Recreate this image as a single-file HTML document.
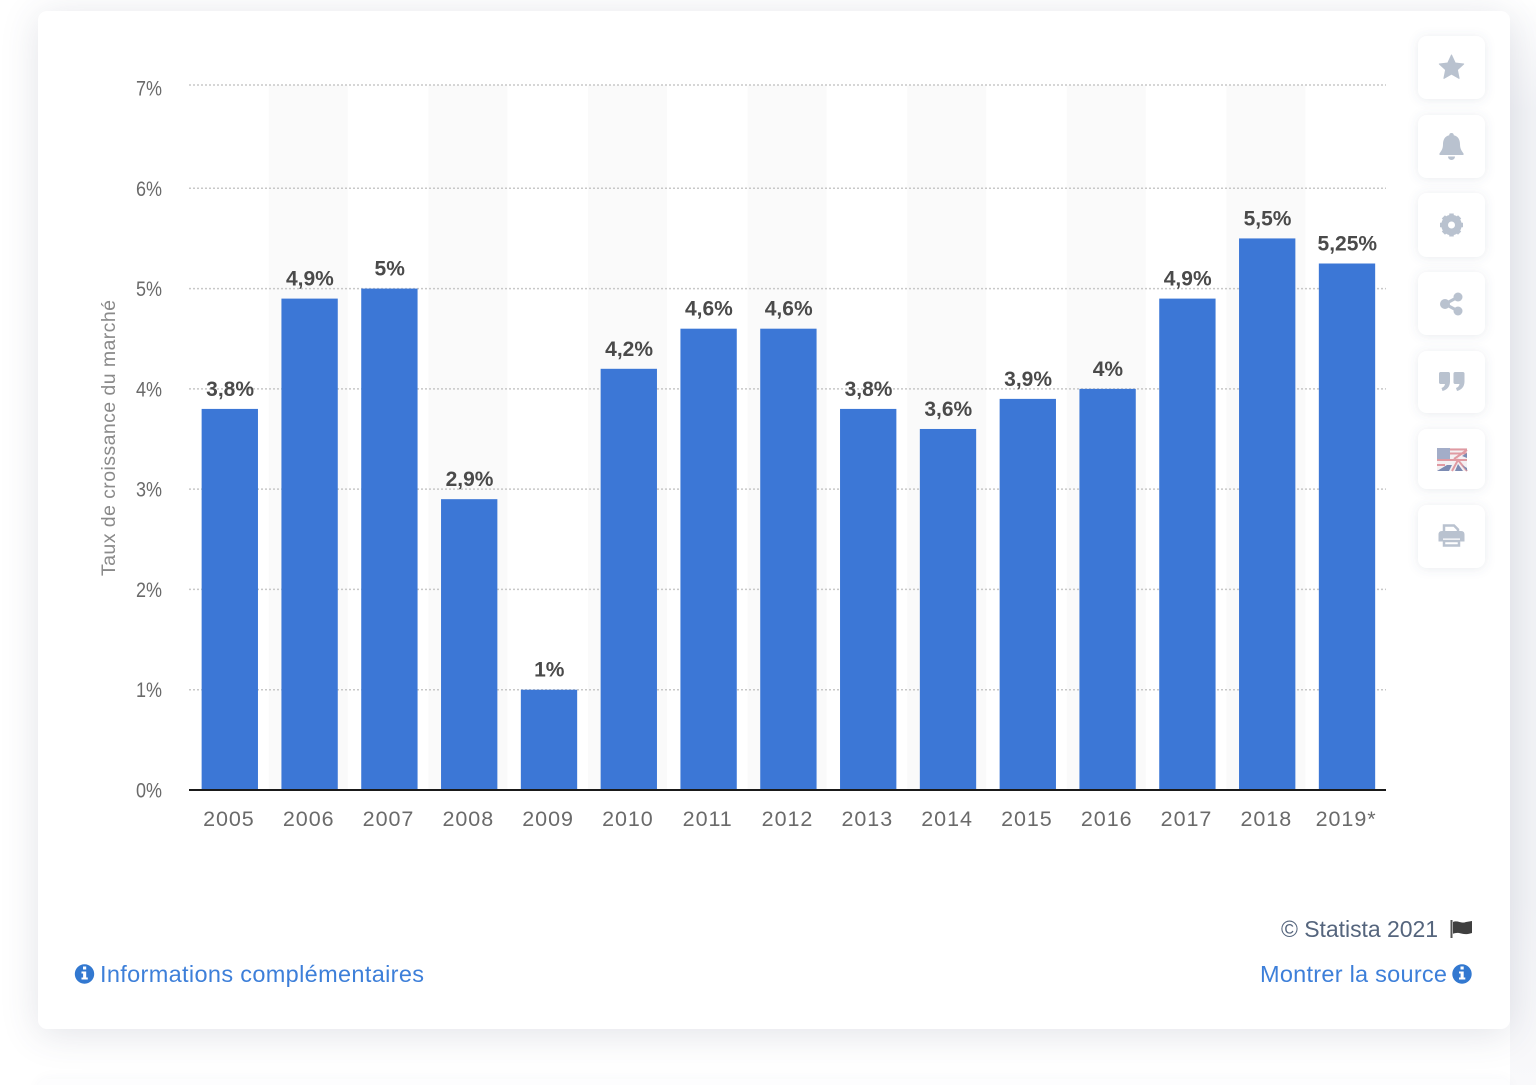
<!DOCTYPE html>
<html lang="fr">
<head>
<meta charset="utf-8">
<title>Taux de croissance du marché</title>
<style>
html,body{margin:0;padding:0;width:1536px;height:1085px;overflow:hidden;background:#fff}
body{position:relative;font-family:"Liberation Sans",sans-serif}
.strip{position:absolute;left:1510px;top:0;width:26px;height:1085px;background:linear-gradient(to bottom,#fff 0,#f3f4f7 110px,#f3f4f7 900px,#f9f9fb 1085px)}
.card{position:absolute;left:38px;top:11px;width:1472px;height:1018px;background:#fff;border-radius:9px;box-shadow:0 5px 38px rgba(60,70,100,.15)}
.next{position:absolute;left:38px;top:1079px;width:1472px;height:60px;background:#fdfdfe;border-radius:9px;box-shadow:0 0 14px rgba(60,70,100,.04)}
svg{position:absolute;left:0;top:0}
text{font-family:"Liberation Sans",sans-serif}
.soft{filter:blur(.35px)}
</style>
</head>
<body>
<div class="strip"></div>
<div class="card"></div>
<div class="next"></div>
<svg id="chart" class="soft" width="1536" height="1085" viewBox="0 0 1536 1085" xmlns="http://www.w3.org/2000/svg">
  <defs>
    <filter id="btn-shadow" x="-30%" y="-30%" width="160%" height="160%">
      <feDropShadow dx="0" dy="1" stdDeviation="5" flood-color="#5a6480" flood-opacity=".13"/>
    </filter>
  </defs>
  <g id="bands"></g>
  <g id="grid"></g>
  <g id="bars"></g>
  <g id="values"></g>
  <g id="yticks"></g>
  <g id="xticks"></g>
  <line x1="189" x2="1386" y1="790" y2="790" stroke="#1a1a1a" stroke-width="2"/>
  <text transform="translate(115,576) rotate(-90)" font-size="19.5" fill="#8a8a8a" textLength="276" lengthAdjust="spacing">Taux de croissance du marché</text>

  <g>
    <rect x="1418" y="36" width="67" height="63" rx="9" fill="#fff" filter="url(#btn-shadow)"/>
    <path d="M1451.500 55l3.700 8 8.500 1-6.300 5.800 1.700 8.600-7.600-4.300-7.600 4.300 1.700-8.600-6.300-5.800 8.500-1z" fill="#b9c2cf" stroke="#b9c2cf" stroke-linejoin="round"/>
  </g>
  <g>
    <rect x="1418" y="115" width="67" height="63" rx="9" fill="#fff" filter="url(#btn-shadow)"/>
    <path d="M1451.500 133c1.500 0 2.300 1 2.300 2.200 4.500 1 6.200 4.800 6.200 9 0 5 2 7 3.500 9.200v1.600h-24v-1.600c1.500-2.200 3.500-4.200 3.500-9.200 0-4.200 1.700-8 6.200-9 0-1.200.8-2.200 2.300-2.200z" fill="#b9c2cf"/>
    <path d="M1448 156.500a3.500 3.500 0 0 0 7 0z" fill="#b9c2cf"/>
  </g>
  <g>
    <rect x="1418" y="193" width="67" height="64" rx="9" fill="#fff" filter="url(#btn-shadow)"/>
    <circle cx="1451.500" cy="225" r="7.500" fill="none" stroke="#b9c2cf" stroke-width="5.500"/>
    <path d="M1451.500 213.500v23M1440 225h23M1443.400 216.900l16.200 16.200M1459.600 216.900l-16.200 16.200" stroke="#b9c2cf" stroke-width="4.500"/>
    <circle cx="1451.500" cy="225" r="3.500" fill="#fff"/>
  </g>
  <g>
    <rect x="1418" y="272" width="67" height="63" rx="9" fill="#fff" filter="url(#btn-shadow)"/>
    <path d="M1458 297l-13 7 13 7" fill="none" stroke="#b9c2cf" stroke-width="3"/>
    <circle cx="1458" cy="297" r="4.500" fill="#b9c2cf"/>
    <circle cx="1445" cy="304" r="5" fill="#b9c2cf"/>
    <circle cx="1458" cy="311" r="4.500" fill="#b9c2cf"/>
  </g>
  <g>
    <rect x="1418" y="351" width="67" height="62" rx="9" fill="#fff" filter="url(#btn-shadow)"/>
    <path d="M1440 372h8.500c.8 0 1.500.7 1.500 1.500v8c0 5-3 8.500-7.500 9.500l-1-3c2-.6 3.200-2 3.500-4h-4.500c-.8 0-1.500-.7-1.500-1.500v-9c0-.8.700-1.500 1.500-1.500z" fill="#b9c2cf"/>
    <path d="M1454.500 372h8.500c.8 0 1.500.7 1.500 1.500v8c0 5-3 8.500-7.500 9.500l-1-3c2-.6 3.200-2 3.500-4h-4.500c-.8 0-1.500-.7-1.500-1.500v-9c0-.8.700-1.500 1.500-1.500z" fill="#b9c2cf"/>
  </g>
  <g>
    <rect x="1418" y="429" width="67" height="60" rx="9" fill="#fff" filter="url(#btn-shadow)"/>
    <rect x="1437" y="448" width="30" height="23" fill="#f4f0f2"/>
    <path d="M1450 449.500h17M1450 453.500h17M1437 460h30M1437 465h8" stroke="#e09aa2" stroke-width="2"/>
    <path d="M1467 450l-13 9M1452 471l6-11 9 11" fill="none" stroke="#e09aa2" stroke-width="2"/>
    <path d="M1437 471l10-6 5 0-3 6zM1455 471l3-7 5 7zM1462 456l5-3v5zM1462 465l5 3v3z" fill="#7c8bb3"/>
    <rect x="1437" y="448" width="13" height="11" fill="#a3adc8"/>
  </g>
  <g>
    <rect x="1418" y="505" width="67" height="63" rx="9" fill="#fff" filter="url(#btn-shadow)"/>
    <path d="M1444 534v-8.500h10l4 4v4.500" fill="none" stroke="#b9c2cf" stroke-width="2.500"/>
    <path d="M1442 531h19c2.500 0 3.500 1.500 3.500 3.500v7h-4.500v-3h-17v3h-4.500v-7c0-2 1-3.500 3.500-3.500z" fill="#b9c2cf"/>
    <path d="M1444 541h15v4.500h-15z" fill="none" stroke="#b9c2cf" stroke-width="2.500"/>
  </g>

  <text x="1281" y="937" font-size="23" fill="#55657d" textLength="157" lengthAdjust="spacing">© Statista 2021</text>
  <g>
    <path d="M1451.500 920v18" stroke="#555" stroke-width="2"/>
    <path d="M1453 922c5-2 8 2 13 0l6-1v12c-6 2-9 1-13 0-2-.4-4 0-6 .8z" fill="#3f3f3f"/>
  </g>

  <g>
    <circle cx="84.500" cy="974" r="9.700" fill="#3278d0"/>
    <path d="M83 966.500h3.200v3h-3.200zM81.500 971.500h4.700v6h1.600v2h-6.300v-2h1.600v-4h-1.600z" fill="#fff"/>
    <text x="100" y="982" font-size="23.500" fill="#3d7fd9" textLength="324" lengthAdjust="spacing">Informations complémentaires</text>
  </g>
  <g>
    <text x="1260" y="982" font-size="23.500" fill="#3d7fd9" textLength="187" lengthAdjust="spacing">Montrer la source</text>
    <circle cx="1462" cy="974" r="9.700" fill="#3278d0"/>
    <path d="M1460.500 966.500h3.200v3h-3.200zM1459 971.500h4.700v6h1.600v2h-6.300v-2h1.600v-4h-1.600z" fill="#fff"/>
  </g>
</svg>
<script>
const categories = ['2005','2006','2007','2008','2009','2010','2011','2012','2013','2014','2015','2016','2017','2018','2019*'];
const seriesValues = [3.8,4.9,5,2.9,1,4.2,4.6,4.6,3.8,3.6,3.9,4,4.9,5.5,5.25];
const valueLabels = ['3,8%','4,9%','5%','2,9%','1%','4,2%','4,6%','4,6%','3,8%','3,6%','3,9%','4%','4,9%','5,5%','5,25%'];
const yTickValues = [0,1,2,3,4,5,6,7];
const yTickLabels = ['0%','1%','2%','3%','4%','5%','6%','7%'];

const NS = 'http://www.w3.org/2000/svg';
const plotLeft = 189, plotRight = 1386, plotBottom = 790, plotTop = 88;
const yMax = 7;
const barRatio = 0.706;
function xBand(i) { return plotLeft + i * (plotRight - plotLeft) / categories.length; }
function bandWidth() { return (plotRight - plotLeft) / categories.length; }
function yScale(v) { return plotBottom - v / yMax * (plotBottom - plotTop); }
function make(tag, attrs, parent) {
  const el = document.createElementNS(NS, tag);
  for (const k in attrs) el.setAttribute(k, attrs[k]);
  parent.appendChild(el);
  return el;
}
const bandsG = document.getElementById('bands');
const gridG = document.getElementById('grid');
const barsG = document.getElementById('bars');
const valuesG = document.getElementById('values');
const yG = document.getElementById('yticks');
const xG = document.getElementById('xticks');

categories.forEach(function (c, i) {
  if (i % 2 === 1) {
    const band = make('rect', {x: xBand(i), y: plotTop - 3, width: bandWidth() - 0.8, height: plotBottom - plotTop + 3, fill: '#fafafa'}, bandsG);
    
    
  }
  const w = bandWidth() * barRatio;
  const bx = xBand(i) + (bandWidth() - w) / 2 + 0.9;
  const bar = make('rect', {x: bx, y: yScale(seriesValues[i]), width: w, height: plotBottom - yScale(seriesValues[i]), fill: '#3c77d6'}, barsG);
  
  

  const lab = make('text', {x: bx + w / 2 + 0.3, y: yScale(seriesValues[i]) - 13, 'text-anchor': 'middle', 'font-size': 21, 'font-weight': 'bold', fill: '#4a4a4a'}, valuesG);
  lab.textContent = valueLabels[i];
  
  

  const tick = make('text', {x: xBand(i) + bandWidth() / 2, y: 826, 'text-anchor': 'middle', 'font-size': 21.5, 'letter-spacing': '0.95', fill: '#6a6a6a'}, xG);
  tick.textContent = c;
  
  
});

yTickValues.forEach(function (v, i) {
  if (v !== 0) {
    const ly = yScale(v) - (v === yMax ? 3 : 0);
    const line = make('line', {x1: plotLeft, x2: plotRight, y1: ly, y2: ly, stroke: '#c8c8c8', 'stroke-width': 1.5, 'stroke-dasharray': '2 2'}, gridG);
    
    
  }
  const t = make('text', {x: 136, y: yScale(v) + 7.5, 'font-size': 21.5, fill: '#6a6a6a', textLength: 26, lengthAdjust: 'spacingAndGlyphs'}, yG);
  t.textContent = yTickLabels[i];
  
  
});
</script>
</body>
</html>
